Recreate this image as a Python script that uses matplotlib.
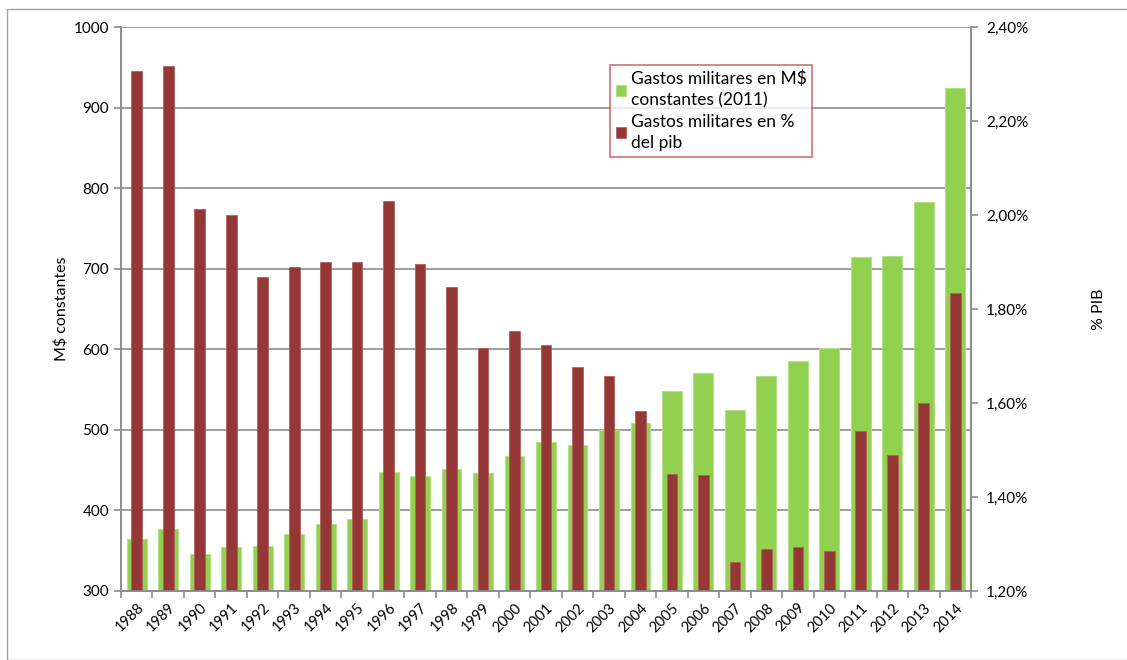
import numpy as np
import matplotlib.pyplot as plt
from matplotlib.ticker import FuncFormatter, FixedLocator
from matplotlib.patches import Rectangle

plt.rcParams['font.family'] = ['Lato', 'DejaVu Sans']

# datos
anios = list(range(1988, 2015))
gasto_mdolares = [365, 377, 346, 354, 356, 371, 383, 389, 448, 443, 451, 447, 467,
                  485, 481, 500, 509, 548, 571, 525, 567, 586, 601, 715, 716, 783, 924]
gasto_pct_pib = [2.306, 2.316, 2.012, 2.001, 1.869, 1.890, 1.899, 1.901, 2.029, 1.895,
                 1.846, 1.716, 1.753, 1.723, 1.677, 1.657, 1.584, 1.450, 1.446, 1.261,
                 1.289, 1.294, 1.286, 1.540, 1.489, 1.599, 1.835]

verde = '#92d050'
rojo = '#953735'
gris = '#8c8c8c'

fig = plt.figure(figsize=(11.27, 6.6), dpi=100)
fig.patches.append(Rectangle((7/1127, 0), 1.2, 1 - 9/660, transform=fig.transFigure,
                             fill=False, edgecolor='#a0a0a0', lw=1))
ax = fig.add_axes([121/1127, 1 - 591/660, 850/1127, 564/660])
x = np.arange(len(anios))

ax.bar(x, gasto_mdolares, width=0.63, color=verde, edgecolor='#b5e08a', lw=0.8,
       label='Gastos militares en M$\nconstantes (2011)')
ax.set_ylim(300, 1000)
ax.set_xlim(-0.5, len(anios) - 0.5)
ax.set_yticks(range(300, 1001, 100))
ax.yaxis.grid(True, color=gris, lw=1.2)
ax.set_axisbelow(True)
ax.set_ylabel('M$ constantes', fontsize=11.5, labelpad=4)

ax2 = ax.twinx()
ax2.bar(x, gasto_pct_pib, width=0.34, color=rojo, edgecolor='#b06060', lw=0.6,
        label='Gastos militares en %\ndel pib')
ax2.set_ylim(1.2, 2.4)
ax2.set_yticks(np.arange(1.2, 2.41, 0.2))
ax2.yaxis.set_major_formatter(FuncFormatter(lambda v, p: f'{v:.2f}%'.replace('.', ',')))
ax2.set_ylabel('% PIB', fontsize=11.5, labelpad=46)

ax.set_xticks(x)
ax.set_xticklabels([str(a) for a in anios], rotation=45, ha='right',
                   rotation_mode='anchor', fontsize=10.5)
ax.tick_params(axis='x', length=0, pad=7)
ax.xaxis.set_minor_locator(FixedLocator(np.arange(-0.5, len(anios), 1)))
ax.tick_params(axis='x', which='minor', length=5, color=gris, width=1.2)
ax.tick_params(axis='y', length=5, color=gris, width=1.2, labelsize=11)
ax2.tick_params(axis='y', length=5, color=gris, width=1.2, labelsize=11, pad=6)

for a in (ax, ax2):
    for s in a.spines.values():
        s.set_color(gris)
        s.set_linewidth(1.2)
    a.spines['top'].set_visible(False)

h1, l1 = ax.get_legend_handles_labels()
h2, l2 = ax2.get_legend_handles_labels()
leg = ax2.legend(h1 + h2, l1 + l2, loc='upper left',
                 bbox_to_anchor=(601/1127, 1 - 56/660), bbox_transform=fig.transFigure,
                 fontsize=12.5, frameon=True, fancybox=False, handlelength=0.6,
                 handleheight=0.6, handletextpad=0.25, borderpad=0.35, labelspacing=0.3)
for t in leg.get_texts():
    t.set_linespacing(1.4)
leg.get_frame().set_edgecolor('#c0504d')
leg.get_frame().set_linewidth(1.2)

fig.savefig('out.png', dpi=100)
